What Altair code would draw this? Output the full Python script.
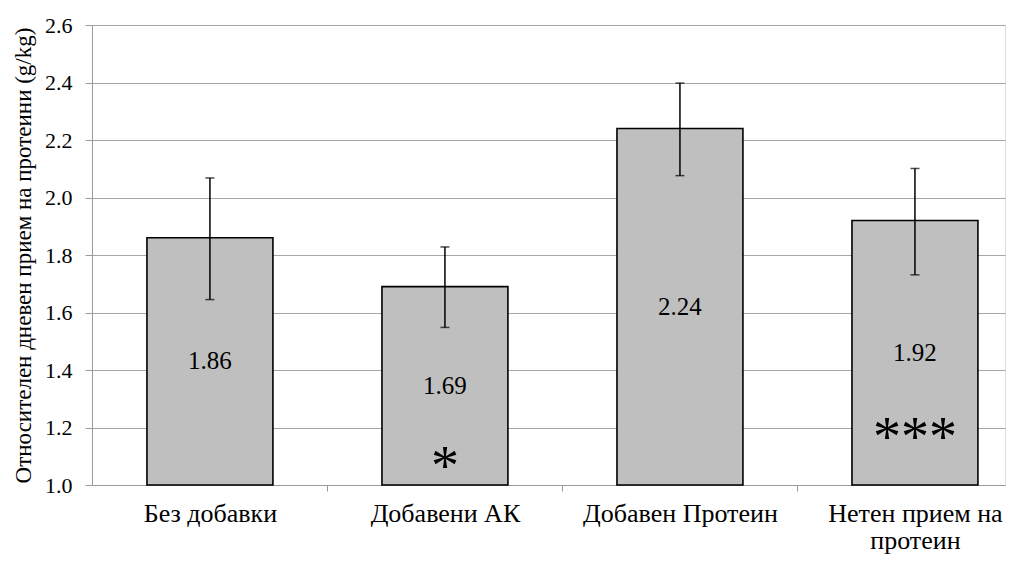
import altair as alt
import pandas as pd

categories = ["Без добавки", "Добавени АК", "Добавен Протеин", "Нетен прием на протеин"]
means = [1.86, 1.69, 2.24, 1.92]
err_lo = [1.645, 1.548, 2.076, 1.731]
err_hi = [2.068, 1.828, 2.398, 2.101]
stars = ["", "*", "", "***"]
star_y = [None, 1.09, None, 1.19]

df = pd.DataFrame({
    "cat": categories,
    "mean": means,
    "lo": err_lo,
    "hi": err_hi,
    "base": [1.0] * 4,
    "label": [f"{v:.2f}" for v in means],
    "mid": [(1.0 + v) / 2 for v in means],
})
sdf = pd.DataFrame({"cat": categories, "star": stars, "sy": star_y}).dropna()

FONT = "Liberation Serif, Times New Roman, serif"

xscale = alt.Scale(domain=categories, paddingInner=0.464, paddingOuter=0.1745, align=0.67)
yscale = alt.Scale(domain=[1.0, 2.6], nice=False, zero=False)

x_enc = alt.X("cat:N", scale=xscale, sort=categories, title=None,
              axis=alt.Axis(labelAngle=0, labelFont=FONT, labelFontSize=26, labelColor="black",
                            labelPadding=9, labelLineHeight=27, labelBaseline="top", labelLimit=0,
                            tickOffset=117.5, labelOffset=-117.5, tickSize=6,
                            tickColor="#9a9a9a", domainColor="#9a9a9a", grid=False,
                            labelExpr="datum.label == 'Нетен прием на протеин' ? ['Нетен прием на', 'протеин'] : datum.label"))

bars = alt.Chart(df).mark_bar(color="#BFBFBF", stroke="black", strokeWidth=1.6).encode(
    x=x_enc,
    y=alt.Y("base:Q", scale=yscale,
            title="Относителен дневен прием на протеини (g/kg)",
            axis=alt.Axis(values=[1.0, 1.2, 1.4, 1.6, 1.8, 2.0, 2.2, 2.4, 2.6], format=".1f",
                          labelFont=FONT, labelFontSize=22, labelColor="black", labelPadding=13,
                          tickSize=7, tickColor="#9a9a9a", domainColor="#9a9a9a",
                          gridColor="#a6a6a6", gridWidth=1,
                          titleFont=FONT, titleFontSize=23, titleFontWeight="normal",
                          titleColor="black", titlePadding=9)),
    y2="mean:Q",
)

rules = alt.Chart(df).mark_rule(color="black", strokeWidth=1.5).encode(
    x=alt.X("cat:N", scale=xscale, sort=categories),
    y=alt.Y("lo:Q", scale=yscale),
    y2="hi:Q",
)
cap_lo = alt.Chart(df).mark_tick(color="black", thickness=1.5, size=9).encode(
    x=alt.X("cat:N", scale=xscale, sort=categories),
    y=alt.Y("lo:Q", scale=yscale),
)
cap_hi = alt.Chart(df).mark_tick(color="black", thickness=1.5, size=9).encode(
    x=alt.X("cat:N", scale=xscale, sort=categories),
    y=alt.Y("hi:Q", scale=yscale),
)
labels = alt.Chart(df).mark_text(font=FONT, fontSize=25, color="black", baseline="middle").encode(
    x=alt.X("cat:N", scale=xscale, sort=categories),
    y=alt.Y("mid:Q", scale=yscale),
    text="label:N",
)
star_text = alt.Chart(sdf).mark_text(font=FONT, fontSize=56, color="black", baseline="alphabetic", dy=26).encode(
    x=alt.X("cat:N", scale=xscale, sort=categories),
    y=alt.Y("sy:Q", scale=yscale),
    text="star:N",
)

chart = alt.layer(bars, rules, cap_lo, cap_hi, labels, star_text).properties(
    width=913, height=460,
    autosize=alt.AutoSizeParams(type="none"),
    padding={"left": 84, "top": 17, "right": 4, "bottom": 70},
).configure_view(stroke=None).configure(background="white")

chart.save("out.html", embed_options={"renderer": "svg", "actions": False})
